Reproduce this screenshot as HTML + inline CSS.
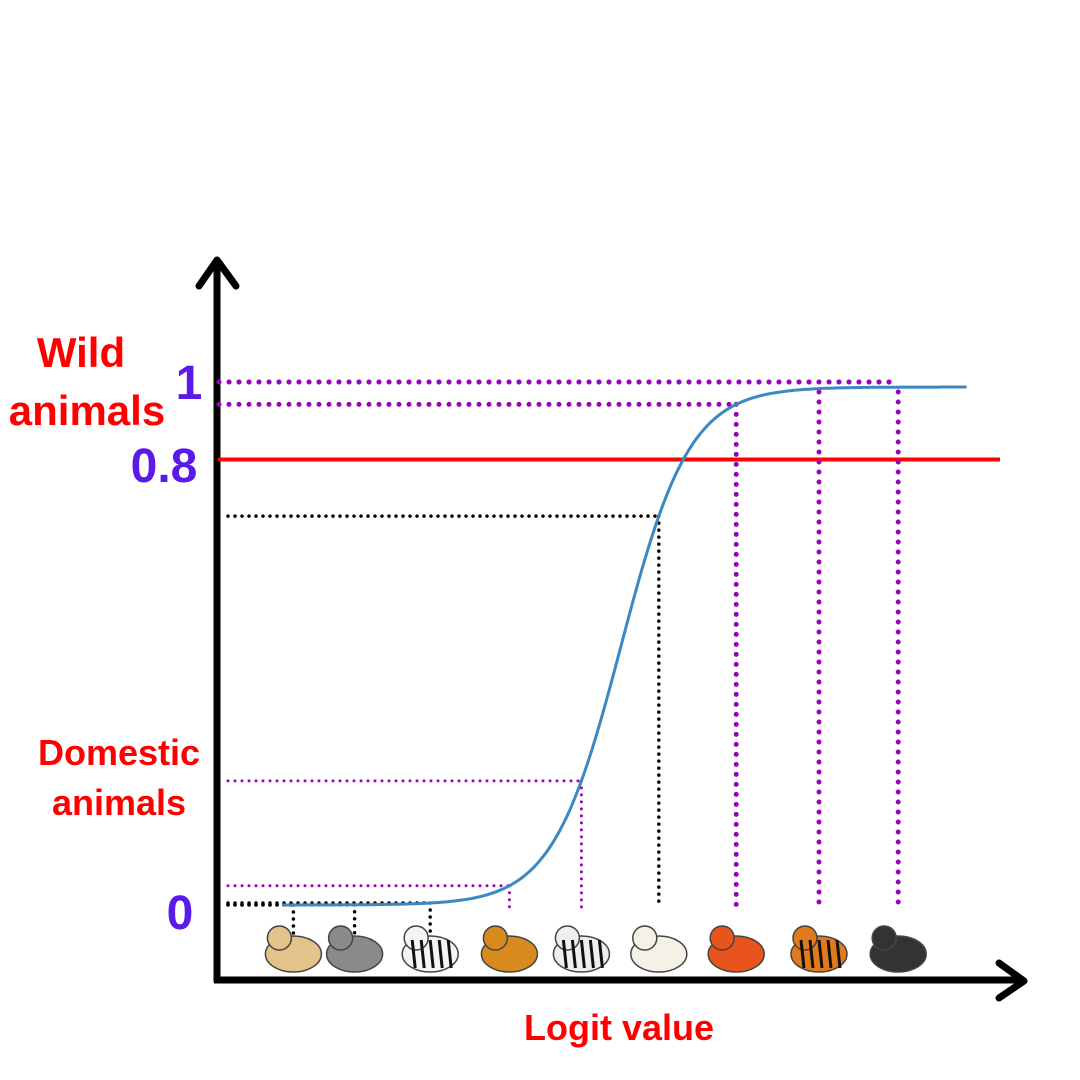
<!DOCTYPE html>
<html><head><meta charset="utf-8"><style>
html,body{margin:0;padding:0;background:#fff}
svg{display:block}
text{font-family:"Liberation Sans",sans-serif;font-weight:bold}
</style></head><body>
<svg id="chart" width="1080" height="1080" viewBox="0 0 1080 1080" xmlns="http://www.w3.org/2000/svg">
<g id="axes">
<line x1="217" y1="262" x2="217" y2="982" stroke="#000" stroke-width="7"/>
<polyline points="199,286 217,260 236,286" fill="none" stroke="#000" stroke-width="7" stroke-linecap="round" stroke-linejoin="round"/>
<line x1="214" y1="980" x2="1022" y2="980" stroke="#000" stroke-width="7"/>
<polyline points="999,963 1024,981 999,998" fill="none" stroke="#000" stroke-width="7" stroke-linecap="round" stroke-linejoin="round"/>
</g>
<g id="guides"></g>
<g id="curveG"></g>
<g id="icons"></g>
<text x="81" y="367" font-size="42" fill="#f00" text-anchor="middle">Wild</text>
<text x="87" y="425" font-size="42" fill="#f00" text-anchor="middle">animals</text>
<text x="119" y="765" font-size="36" fill="#f00" text-anchor="middle">Domestic</text>
<text x="119" y="815" font-size="36" fill="#f00" text-anchor="middle">animals</text>
<text x="189" y="399" font-size="48" fill="#5b1ae8" text-anchor="middle">1</text>
<text x="164" y="482" font-size="48" fill="#5b1ae8" text-anchor="middle">0.8</text>
<text x="180" y="929" font-size="48" fill="#5b1ae8" text-anchor="middle">0</text>
<text x="619" y="1040" font-size="36" fill="#f00" text-anchor="middle">Logit value</text>
</svg>
<script>
const animals = ["dog","cat","cow","lion","zebra","sheep","fox","tiger","gorilla"];
const logits = [-9.1,-7.4,-5.3,-3.1,-1.1,1.05,3.2,5.5,7.7];
const groups = ["domestic","domestic","domestic","wild","wild","domestic","wild","wild","wild"];
const thresholdValue = [0.86];
const curveRange = [-9.4, 9.6];

const NS="http://www.w3.org/2000/svg";
const xS = l => 621 + 36*l;
const yS = p => 905 - 518*p;
const sig = l => 1/(1+Math.exp(-1.05*l));
function mk(tag, attrs, parent){const e=document.createElementNS(NS,tag);for(const k in attrs)e.setAttribute(k,attrs[k]);parent.appendChild(e);return e;}
const guides=document.getElementById('guides');
const curveG=document.getElementById('curveG');
const icons=document.getElementById('icons');

const th=mk('line',{x1:218,x2:1000,y1:yS(thresholdValue[0]),y2:yS(thresholdValue[0]),stroke:'#f00','stroke-width':4},guides);



const colors={domestic:'#000',wild:'#9b00c0'};
animals.forEach((a,i)=>{
  const l=logits[i], p=sig(l), x=xS(l), y=yS(p);
  const c = (a==='lion'||a==='zebra')?'#9b00c0':colors[groups[i]];
  const heavy = (a==='fox'||a==='tiger'||a==='gorilla');
  const sw = heavy?5:(c==='#000'?3.5:3);
  const dash = heavy?'0 10':'0 7';
  let yh = y;
  if(a==='tiger'||a==='gorilla') yh = yS(1)-5;
  const h=mk('line',{x1:heavy?219:228,x2:a==='tiger'||a==='gorilla'?890:x,y1:yh,y2:yh,stroke:c,'stroke-width':sw,'stroke-dasharray':dash,'stroke-linecap':'round'},guides);
  
  
  const v=mk('line',{x1:x,x2:x,y1:(a==='tiger'||a==='gorilla')?yS(1)+5:y,y2:c==='#000'&&a!=='sheep'?950:908,stroke:c,'stroke-width':sw,'stroke-dasharray':dash,'stroke-linecap':'round'},guides);
  
  
  const g=mk('g',{transform:`translate(${x},948)`},icons);
  
  
  const body={dog:'#e3c38a',cat:'#8a8a8a',cow:'#f4f4f4',lion:'#d98a1e',zebra:'#eee',sheep:'#f6f1e6',fox:'#e8541c',tiger:'#e07a1c',gorilla:'#333'}[a];
  mk('ellipse',{cx:0,cy:6,rx:28,ry:18,fill:body,stroke:'#444','stroke-width':1.5},g);
  mk('circle',{cx:-14,cy:-10,r:12,fill:body,stroke:'#444','stroke-width':1.5},g);
  if(a==='zebra'||a==='tiger'||a==='cow'){for(let k=-18;k<=18;k+=9)mk('line',{x1:k,y1:-8,x2:k+3,y2:20,stroke:'#111','stroke-width':3},g);}
});

let d='';
for(let l=curveRange[0]; l<=curveRange[1]+1e-9; l+=0.1){d+=(d?'L':'M')+xS(l).toFixed(1)+','+yS(sig(l)).toFixed(1);}
const cp=mk('path',{d:d,fill:'none',stroke:'#3a88c4','stroke-width':3},curveG);


</script>
</body></html>
